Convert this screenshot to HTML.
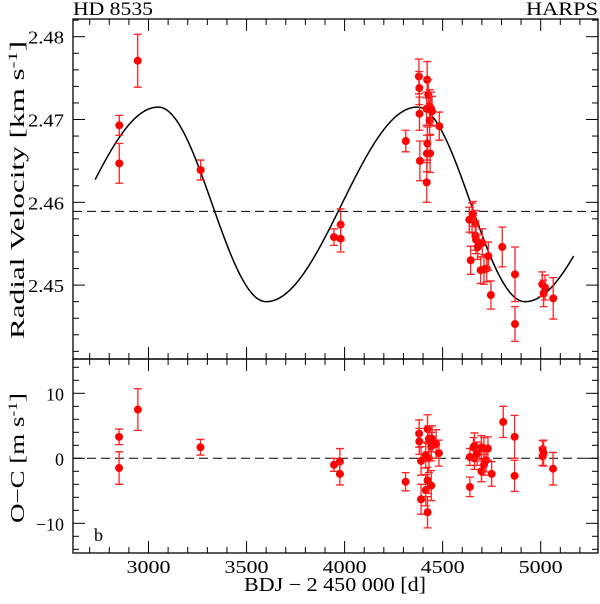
<!DOCTYPE html>
<html><head><meta charset="utf-8"><style>
html,body{margin:0;padding:0;background:#fff;}
svg{display:block;font-family:"Liberation Serif",serif;}
</style></head><body>
<svg id="chart" width="600" height="604" viewBox="0 0 600 604">
  <text x="73" y="15" font-size="19" textLength="80" lengthAdjust="spacingAndGlyphs">HD 8535</text>
  <text x="598" y="15" font-size="19" text-anchor="end" textLength="72" lengthAdjust="spacingAndGlyphs">HARPS</text>
  <text transform="translate(24,190) rotate(-90)" font-size="20" text-anchor="middle" textLength="298" lengthAdjust="spacingAndGlyphs">Radial Velocity [km s<tspan dy="-7" font-size="13">-1</tspan><tspan dy="7">]</tspan></text>
  <text transform="translate(24,458) rotate(-90)" font-size="20" text-anchor="middle" textLength="130" lengthAdjust="spacingAndGlyphs">O−C [m s<tspan dy="-7" font-size="13">-1</tspan><tspan dy="7">]</tspan></text>
  <text x="335" y="591" font-size="20" text-anchor="middle" textLength="182" lengthAdjust="spacingAndGlyphs">BDJ − 2 450 000 [d]</text>
  <text x="94" y="541" font-size="18">b</text>
  <g id="g"></g>
</svg>
<script>
// ---- data ----
const rvTime = [2851,2851,2945,3266,3946,3980,3980,4312,4379,4381,4382,4384,4419,4421,4418,4420,4422,4427,4434,4436,4434,4441,4446,4483,4636,4643,4650,4655,4667,4667,4670,4679,4694,4702,4711,4725,4733,4746,4804,4869,4869,5008,5015,5022,5064];
const rvValue = [2.4693,2.4647,2.4771,2.4639,2.4558,2.4573,2.4556,2.4674,2.4752,2.4738,2.4707,2.4650,2.4624,2.4748,2.4713,2.4659,2.4671,2.4730,2.4716,2.4659,2.4699,2.4713,2.4710,2.4692,2.4579,2.4530,2.4581,2.4586,2.4574,2.4560,2.4555,2.4546,2.4518,2.4551,2.4519,2.4520,2.4535,2.4488,2.4546,2.4513,2.4453,2.4501,2.4490,2.4497,2.4484];
const rvError = [0.0012,0.0024,0.0032,0.0012,0.0010,0.0019,0.0016,0.0013,0.0021,0.0020,0.0020,0.0024,0.0024,0.0022,0.0020,0.0022,0.0020,0.0018,0.0020,0.0023,0.0018,0.0020,0.0018,0.0017,0.0015,0.0017,0.0018,0.0015,0.0016,0.0018,0.0017,0.0015,0.0016,0.0017,0.0018,0.0016,0.0017,0.0017,0.0024,0.0033,0.0021,0.0015,0.0016,0.0015,0.0025];
const ocTime = [2850,2850,2946,3265,3946,3976,3976,4311,4380,4381,4390,4390,4414,4414,4423,4423,4423,4430,4430,4442,4442,4446,4467,4481,4639,4639,4657,4662,4662,4676,4698,4698,4711,4711,4722,4731,4750,4809,4867,4867,5010,5010,5015,5063];
const ocValue = [3.3,-1.5,7.5,1.7,-1.0,-0.5,-2.4,-3.6,3.8,2.6,-0.4,-6.3,0.5,-4.9,4.5,-8.3,-3.4,3.0,0.0,1.8,-4.2,3.0,2.2,0.8,0.2,-4.4,1.7,0.0,1.9,0.7,-2.0,1.7,-1.0,1.5,-0.3,1.5,-2.4,5.6,3.3,-2.7,1.4,0.3,0.8,-1.6];
const ocError = [1.2,2.5,3.2,1.2,1.0,2.0,1.7,1.4,2.1,2.0,2.2,2.3,2.0,2.4,2.2,2.4,2.0,2.0,2.2,2.2,2.3,2.0,2.2,2.0,1.3,1.5,1.5,1.7,2.0,1.8,1.6,1.8,1.6,1.7,1.8,1.8,1.9,2.4,3.3,2.4,1.3,1.4,2.0,2.5];
const xTickLabels = [3000,3500,4000,4500,5000];
const rvTickLabels = ["2.45","2.46","2.47","2.48"];
const ocTickLabels = [-10,0,10];
const systemicVelocity = 2.4589;
// orbit model parameters (piecewise cosine approximation of the Keplerian)
const orbitParams = {period:1320, tPeak:3050, fallDays:550, mean:2.45975, amp:0.01175, tStart:2728, tEnd:5170};

// ---- axes ----
const L=73,R=598,T=19,M=359,B=553;
const X=t=>148.5+(t-3000)*0.1961;
const Yrv=v=>202.3-(v-2.46)*8280;
const Yoc=v=>458.3-v*6.5;
const NS='http://www.w3.org/2000/svg';
const g=document.getElementById('g');
function mk(tag,attrs,parent){const e=document.createElementNS(NS,tag);for(const k in attrs)e.setAttribute(k,attrs[k]);(parent||g).appendChild(e);return e;}

let f1=mk('rect',{x:L,y:T,width:R-L,height:M-T,fill:'none',stroke:'#000','stroke-width':1.3});


let f2=mk('rect',{x:L,y:M,width:R-L,height:B-M,fill:'none',stroke:'#000','stroke-width':1.3});



for(let t=2700;t<=5200;t+=100){
  const x=X(t); const major=t%500===0; const l=major?12:6;
  [[T,T+l],[M,M-l],[M,M+l],[B,B-l]].forEach(p=>{
    const tk=mk('line',{x1:x,x2:x,y1:p[0],y2:p[1],stroke:'#000','stroke-width':1});
    
    
  });
}
xTickLabels.forEach(v=>{
  const tx=mk('text',{x:X(v),y:573,'font-size':18,'text-anchor':'middle',textLength:44,lengthAdjust:'spacingAndGlyphs'});tx.textContent=v;
  
  
});
for(let i=0;i<=21;i++){
  const v=2.442+i*0.002; const y=Yrv(v); if(y<T||y>M)continue;
  const major=Math.round(v*1000)%10===0; const l=major?12:6;
  [[L,L+l],[R,R-l]].forEach(p=>{
    const tk=mk('line',{x1:p[0],x2:p[1],y1:y,y2:y,stroke:'#000','stroke-width':1});
    
    
  });
}
rvTickLabels.forEach(s=>{
  const tx=mk('text',{x:28,y:Yrv(parseFloat(s))+7,'font-size':18,textLength:36,lengthAdjust:'spacingAndGlyphs'});tx.textContent=s;
  
  
});
for(let v=-14;v<=14;v+=2){
  const y=Yoc(v); const l=(v%10===0)?12:6;
  [[L,L+l],[R,R-l]].forEach(p=>{
    const tk=mk('line',{x1:p[0],x2:p[1],y1:y,y2:y,stroke:'#000','stroke-width':1});
    
    
  });
}
ocTickLabels.forEach(v=>{
  const tx=mk('text',{x:64,y:Yoc(v)+7,'font-size':18,'text-anchor':'end'});tx.textContent=(v<0?'−':'')+Math.abs(v);
  
  
});

let d1=mk('line',{x1:L,x2:R,y1:Yrv(systemicVelocity),y2:Yrv(systemicVelocity),stroke:'#000','stroke-width':1,'stroke-dasharray':'9,5'});


let d2=mk('line',{x1:L,x2:R,y1:Yoc(0),y2:Yoc(0),stroke:'#000','stroke-width':1,'stroke-dasharray':'9,5'});



function model(t){
  const p=orbitParams; let u=((t-p.tPeak)/p.period)%1; if(u<0)u+=1;
  const fu=p.fallDays/p.period;
  const c=u<fu?Math.cos(Math.PI*u/fu):Math.cos(Math.PI+Math.PI*(u-fu)/(1-fu));
  return p.mean+p.amp*c;
}
let pts=[];
for(let t=orbitParams.tStart;t<=orbitParams.tEnd;t+=5)pts.push(X(t).toFixed(2)+','+Yrv(model(t)).toFixed(2));
let cv=mk('polyline',{points:pts.join(' '),fill:'none',stroke:'#000','stroke-width':1.5});



function drawPts(ts,vs,es,Y,name){
  for(let i=0;i<ts.length;i++){
    const x=X(ts[i]),y=Y(vs[i]),y1=Y(vs[i]+es[i]),y2=Y(vs[i]-es[i]);
    const eb=mk('path',{d:`M${x},${y1}V${y2}M${x-4},${y1}H${x+4}M${x-4},${y2}H${x+4}`,stroke:'#f22','stroke-width':1.3,fill:'none'});
    
    
    const c=mk('circle',{cx:x,cy:y,r:4,fill:'#f00'});
    
    
  }
}
drawPts(rvTime,rvValue,rvError,Yrv,'rv');
drawPts(ocTime,ocValue,ocError,Yoc,'oc');
</script>
</body></html>
